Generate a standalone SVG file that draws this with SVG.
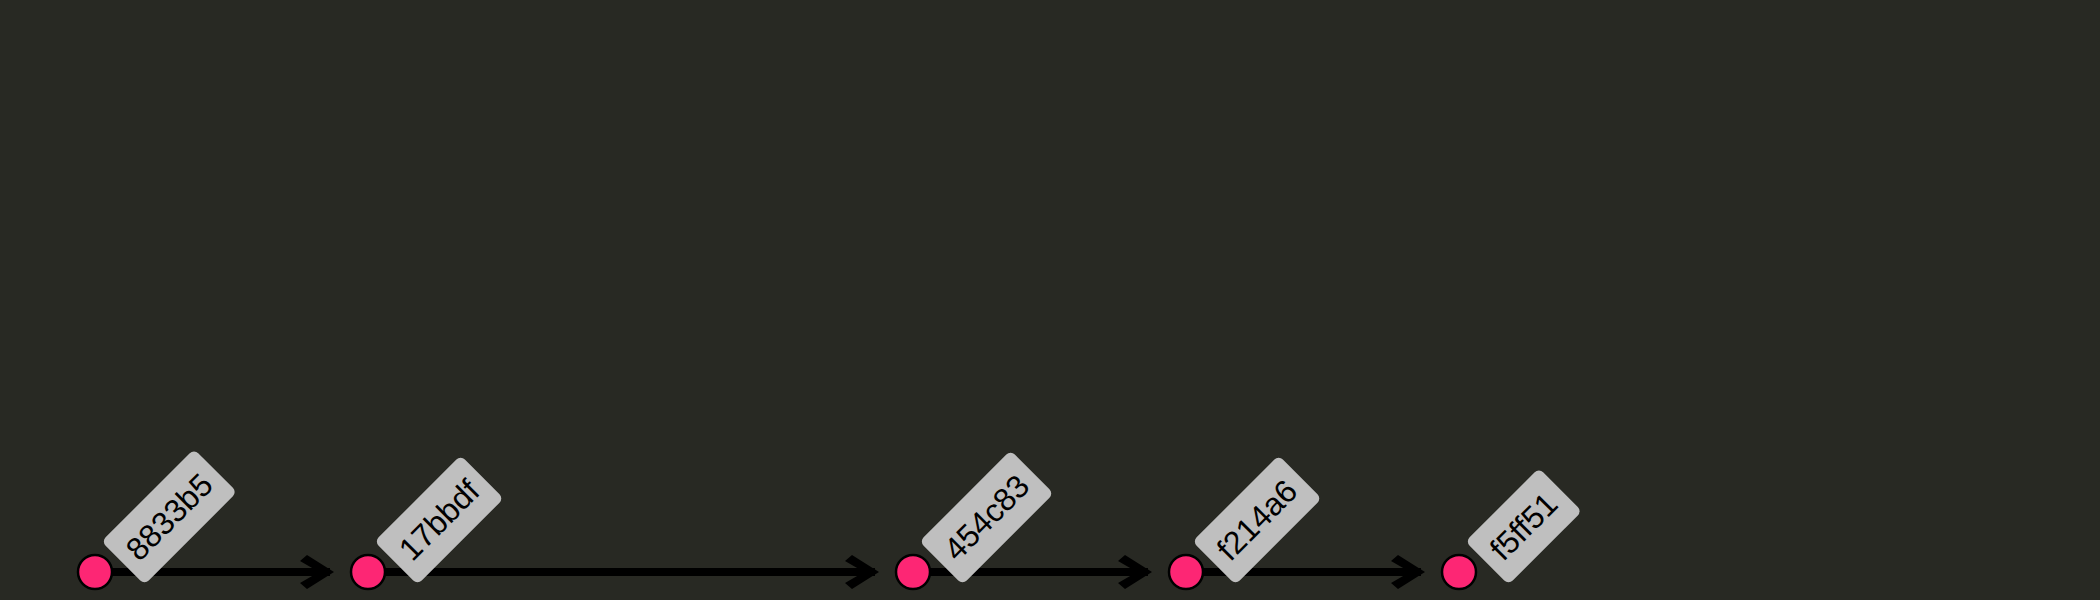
<svg xmlns="http://www.w3.org/2000/svg" width="2100" height="600" viewBox="0 0 2100 600">
<style>
.bg{fill:#282923}
.line{stroke:#000;stroke-width:8;fill:none}
.head{fill:#000}
.commit{fill:#fd2674;stroke:#000;stroke-width:2.5}
.lbl{fill:#bfbfbf}
.txt{font-family:"Liberation Sans",Arial,sans-serif;font-size:32px;fill:#000;text-anchor:middle;dominant-baseline:central}
</style>
<defs>
<polygon id="ah" class="head" points="0,0 -27,-17 -34,-11 -15,0 -34,11 -27,17"/>
</defs>
<rect class="bg" x="0" y="0" width="2100" height="600"/>
<g id="connectors">
<line class="line" x1="95" y1="572" x2="330" y2="572"/>
<use href="#ah" x="334" y="572"/>
<line class="line" x1="368" y1="572" x2="875" y2="572"/>
<use href="#ah" x="879" y="572"/>
<line class="line" x1="913" y1="572" x2="1148" y2="572"/>
<use href="#ah" x="1152" y="572"/>
<line class="line" x1="1186" y1="572" x2="1421" y2="572"/>
<use href="#ah" x="1425" y="572"/>
</g>
<g id="c8833b5">
<circle class="commit" cx="95" cy="572" r="17"/>
<g transform="translate(95,572) rotate(-45)">
<rect class="lbl" x="26" y="-17" width="131" height="61" rx="6"/>
<text class="txt" x="91.5" y="13.5">8833b5</text>
</g>
</g>
<g id="c17bbdf">
<circle class="commit" cx="368" cy="572" r="17"/>
<g transform="translate(368,572) rotate(-45)">
<rect class="lbl" x="26" y="-17" width="122" height="61" rx="6"/>
<text class="txt" x="87" y="13.5">17bbdf</text>
</g>
</g>
<g id="c454c83">
<circle class="commit" cx="913" cy="572" r="17"/>
<g transform="translate(913,572) rotate(-45)">
<rect class="lbl" x="26" y="-17" width="129" height="61" rx="6"/>
<text class="txt" x="90.5" y="13.5">454c83</text>
</g>
</g>
<g id="cf214a6">
<circle class="commit" cx="1186" cy="572" r="17"/>
<g transform="translate(1186,572) rotate(-45)">
<rect class="lbl" x="26" y="-17" width="122" height="61" rx="6"/>
<text class="txt" x="87" y="13.5">f214a6</text>
</g>
</g>
<g id="cf5ff51">
<circle class="commit" cx="1459" cy="572" r="17"/>
<g transform="translate(1459,572) rotate(-45)">
<rect class="lbl" x="26" y="-17" width="104" height="61" rx="6"/>
<text class="txt" x="78" y="13.5">f5ff51</text>
</g>
</g>
</svg>
